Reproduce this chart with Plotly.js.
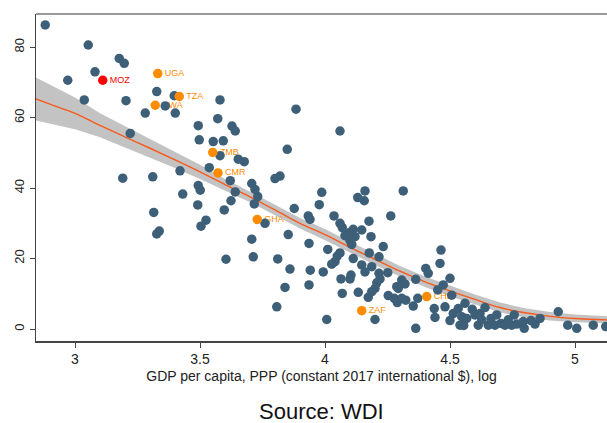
<!DOCTYPE html>
<html>
<head>
<meta charset="utf-8">
<script src="https://cdn.plot.ly/plotly-3.0.1.min.js"></script>
<style>
  html, body { margin: 0; padding: 0; background: #ffffff; overflow: hidden; }
  #chart { width: 607px; height: 423px; }
</style>
</head>
<body>
<div id="chart"></div>
<script>
// log10 GDP per capita (PPP, constant 2017 intl $) and indicator value, one pair per country
const gdpLog = [
  2.881, 3.053, 3.177, 3.197, 3.080, 2.971, 3.037, 3.204, 3.327, 3.397,
  3.361, 3.401, 3.281, 3.580, 3.571, 3.493, 3.628, 3.641, 3.497, 3.553,
  3.593, 3.580, 3.221, 3.537, 3.420, 3.621, 3.191, 3.311, 3.493, 3.501,
  3.431, 3.491, 3.315, 3.597, 3.624, 3.641, 3.524, 3.504, 3.337, 3.327,
  3.604, 3.884, 4.060, 3.849, 3.653, 3.677, 3.800, 3.820, 3.707, 3.720,
  3.731, 3.717, 3.987, 3.977, 3.877, 4.160, 4.131, 4.157, 4.313, 4.263,
  4.036, 3.760, 3.933, 3.940, 4.060, 4.069, 4.176, 4.113, 4.147, 4.096,
  4.080, 4.184, 4.120, 4.100, 4.107, 3.853, 3.707, 3.936, 4.011, 4.060,
  4.049, 4.233, 4.177, 4.216, 4.113, 3.713, 3.811, 4.040, 4.027, 4.147,
  4.187, 3.860, 3.941, 3.993, 4.160, 4.251, 4.216, 4.220, 4.104, 4.064,
  4.100, 4.207, 4.307, 3.936, 3.840, 4.200, 4.187, 4.133, 4.253, 4.277,
  4.307, 4.173, 4.069, 4.289, 3.807, 4.200, 4.007, 4.363, 4.464, 4.460,
  4.403, 4.413, 4.363, 4.320, 4.293, 4.323, 4.500, 4.473, 4.451, 4.371,
  4.353, 4.507, 4.437, 4.480, 4.440, 4.560, 4.533, 4.513, 4.500, 4.547,
  4.567, 4.589, 4.540, 4.600, 4.620, 4.640, 4.613, 4.627, 4.664, 4.653,
  4.687, 4.704, 4.680, 4.720, 4.733, 4.757, 4.747, 4.767, 4.797, 4.793,
  4.824, 4.840, 4.860, 4.933, 4.971, 5.007, 5.073, 5.123, 4.287, 4.555
];
const indicator = [
  86.3, 80.6, 76.8, 75.4, 73.0, 70.6, 65.0, 64.8, 67.4, 66.2,
  63.3, 61.3, 61.3, 65.0, 59.7, 57.7, 57.6, 56.2, 53.7, 53.2,
  53.4, 49.2, 55.5, 45.8, 44.9, 42.1, 42.8, 43.2, 40.7, 39.4,
  38.3, 35.2, 33.1, 33.8, 36.4, 38.9, 30.9, 29.2, 27.8, 27.0,
  19.8, 62.4, 56.2, 51.0, 48.2, 47.5, 42.7, 43.4, 41.3, 39.6,
  37.6, 35.5, 38.8, 35.3, 34.2, 39.2, 37.3, 36.4, 39.2, 32.1,
  32.1, 30.0, 32.1, 31.1, 30.0, 28.8, 30.6, 28.3, 28.1, 27.3,
  26.5, 26.2, 26.2, 25.1, 24.0, 26.8, 25.5, 24.3, 22.6, 21.6,
  20.7, 23.4, 21.6, 20.5, 20.0, 20.5, 19.9, 19.1, 18.4, 18.2,
  17.7, 17.0, 16.7, 16.2, 16.2, 16.0, 15.8, 14.2, 15.3, 14.2,
  14.2, 13.1, 13.9, 12.5, 11.8, 11.5, 10.6, 10.4, 9.5, 8.7,
  8.7, 9.0, 10.1, 7.5, 6.3, 2.7, 2.7, 0.2, 22.4, 18.6,
  17.2, 15.8, 14.1, 12.8, 11.5, 8.2, 14.4, 12.5, 11.1, 8.7,
  6.5, 9.6, 5.8, 6.3, 3.3, 7.3, 5.8, 4.4, 2.4, 3.5,
  3.0, 5.6, 1.1, 4.0, 4.4, 6.1, 1.1, 2.6, 3.0, 1.1,
  4.0, 1.6, 1.1, 1.1, 2.6, 4.0, 1.1, 1.4, 0.2, 2.1,
  2.4, 1.4, 3.0, 4.9, 1.1, 0.2, 1.1, 0.7, 12.0, 1.0
];

// labelled countries
const hlCodes = ["UGA", "TZA", "RWA", "ZMB", "CMR", "GHA", "CHL", "ZAF"];
const hlGdp   = [3.331, 3.417, 3.321, 3.551, 3.572, 3.729, 4.407, 4.147];
const hlValue = [72.5, 66.0, 63.5, 50.1, 44.3, 31.1, 9.2, 5.2];
const mozCode = ["MOZ"];
const mozGdp = [3.111];
const mozValue = [70.6];

// local polynomial fit with its confidence band
const fitGdp   = [2.844, 2.9, 3.0, 3.1, 3.2, 3.3, 3.4, 3.5, 3.6, 3.7, 3.8, 3.9,
                  4.0, 4.1, 4.2, 4.3, 4.4, 4.5, 4.6, 4.7, 4.8, 4.9, 5.0, 5.13];
const fitValue = [65.3, 63.8, 61.2, 57.8, 54.5, 51.3, 48.0, 44.6, 41.0, 37.5, 33.8, 30.0,
                  26.8, 23.2, 19.8, 16.4, 13.4, 10.8, 8.4, 6.1, 4.6, 3.6, 3.0, 2.6];
const fitUpper = [71.4, 69.3, 65.7, 61.2, 57.5, 53.9, 50.3, 46.6, 42.6, 39.0, 35.3, 31.5,
                  28.4, 24.8, 21.4, 17.9, 14.9, 12.3, 9.8, 7.5, 5.9, 4.8, 4.1, 3.6];
const fitLower = [59.2, 58.3, 56.7, 54.4, 51.5, 48.7, 45.7, 42.6, 39.4, 36.0, 32.3, 28.5,
                  25.2, 21.6, 18.2, 14.9, 11.9, 9.3, 7.0, 4.7, 3.3, 2.4, 1.9, 1.6];

const dotColor = "#3d5f78";
const hlColor = "#ff8c00";
const fitColor = "#f75a1c";
const dotSize = 9.5;
const labelFont = "Liberation Sans, Arial, sans-serif";

const traces = [
  { x: fitGdp, y: fitLower, mode: "lines", line: { width: 0, color: "rgba(0,0,0,0)" },
    hoverinfo: "skip", showlegend: false },
  { x: fitGdp, y: fitUpper, mode: "lines", line: { width: 0, color: "rgba(0,0,0,0)" },
    fill: "tonexty", fillcolor: "#c3c3c3", hoverinfo: "skip", showlegend: false },
  { x: fitGdp, y: fitValue, mode: "lines", line: { color: fitColor, width: 1.4, shape: "spline" },
    showlegend: false },
  // country codes sit under the other dots; the hidden markers keep the text clear of its own dot
  { x: hlGdp, y: hlValue, text: hlCodes, mode: "markers+text", textposition: "middle right",
    marker: { size: dotSize, opacity: 0 },
    textfont: { family: labelFont, size: 9, color: hlColor }, showlegend: false },
  { x: mozGdp, y: mozValue, text: mozCode, mode: "markers+text", textposition: "middle right",
    marker: { size: dotSize, opacity: 0 },
    textfont: { family: labelFont, size: 9, color: "#ff0000" }, showlegend: false },
  { x: gdpLog, y: indicator, mode: "markers",
    marker: { color: dotColor, size: dotSize, line: { width: 0 } }, showlegend: false },
  { x: hlGdp, y: hlValue, mode: "markers",
    marker: { color: hlColor, size: dotSize, line: { width: 0 } }, showlegend: false },
  { x: mozGdp, y: mozValue, mode: "markers",
    marker: { color: "#ff0000", size: dotSize, line: { width: 0 } }, showlegend: false }
];

const layout = {
  width: 607,
  height: 423,
  margin: { l: 36, r: 0, t: 14, b: 82, pad: 0 },
  paper_bgcolor: "#ffffff",
  plot_bgcolor: "#ffffff",
  font: { family: "Liberation Sans, Arial, sans-serif", color: "#222222" },
  showlegend: false,
  xaxis: {
    range: [2.844, 5.128],
    tickvals: [3, 3.5, 4, 4.5, 5],
    ticktext: ["3", "3.5", "4", "4.5", "5"],
    ticks: "outside", ticklen: 5, tickwidth: 1, tickcolor: "#444444",
    tickfont: { size: 14, color: "#222222" },
    showline: true, linecolor: "#444444", linewidth: 1.5,
    showgrid: false, zeroline: false,
    title: { text: "GDP per capita, PPP (constant 2017 international $), log",
             font: { size: 14, color: "#222222" }, standoff: 5 }
  },
  yaxis: {
    range: [-3.4, 89.4],
    tickvals: [0, 20, 40, 60, 80],
    tickangle: -90,
    ticks: "outside", ticklen: 5, tickwidth: 1, tickcolor: "#444444",
    tickfont: { size: 13, color: "#222222" },
    showline: true, linecolor: "#444444", linewidth: 1.5,
    showgrid: false, zeroline: false
  },
  shapes: [
    { type: "line", xref: "paper", yref: "paper", x0: 0, x1: 1, y0: 1, y1: 1,
      line: { color: "#777777", width: 1.5 } }
  ],
  annotations: [
    { text: "Source: WDI", xref: "paper", yref: "paper", x: 0.5, y: -0.217,
      xanchor: "center", yanchor: "middle", showarrow: false,
      font: { size: 22, color: "#111111" } }
  ]
};

Plotly.newPlot("chart", traces, layout, { displayModeBar: false, staticPlot: true });
</script>
</body>
</html>
